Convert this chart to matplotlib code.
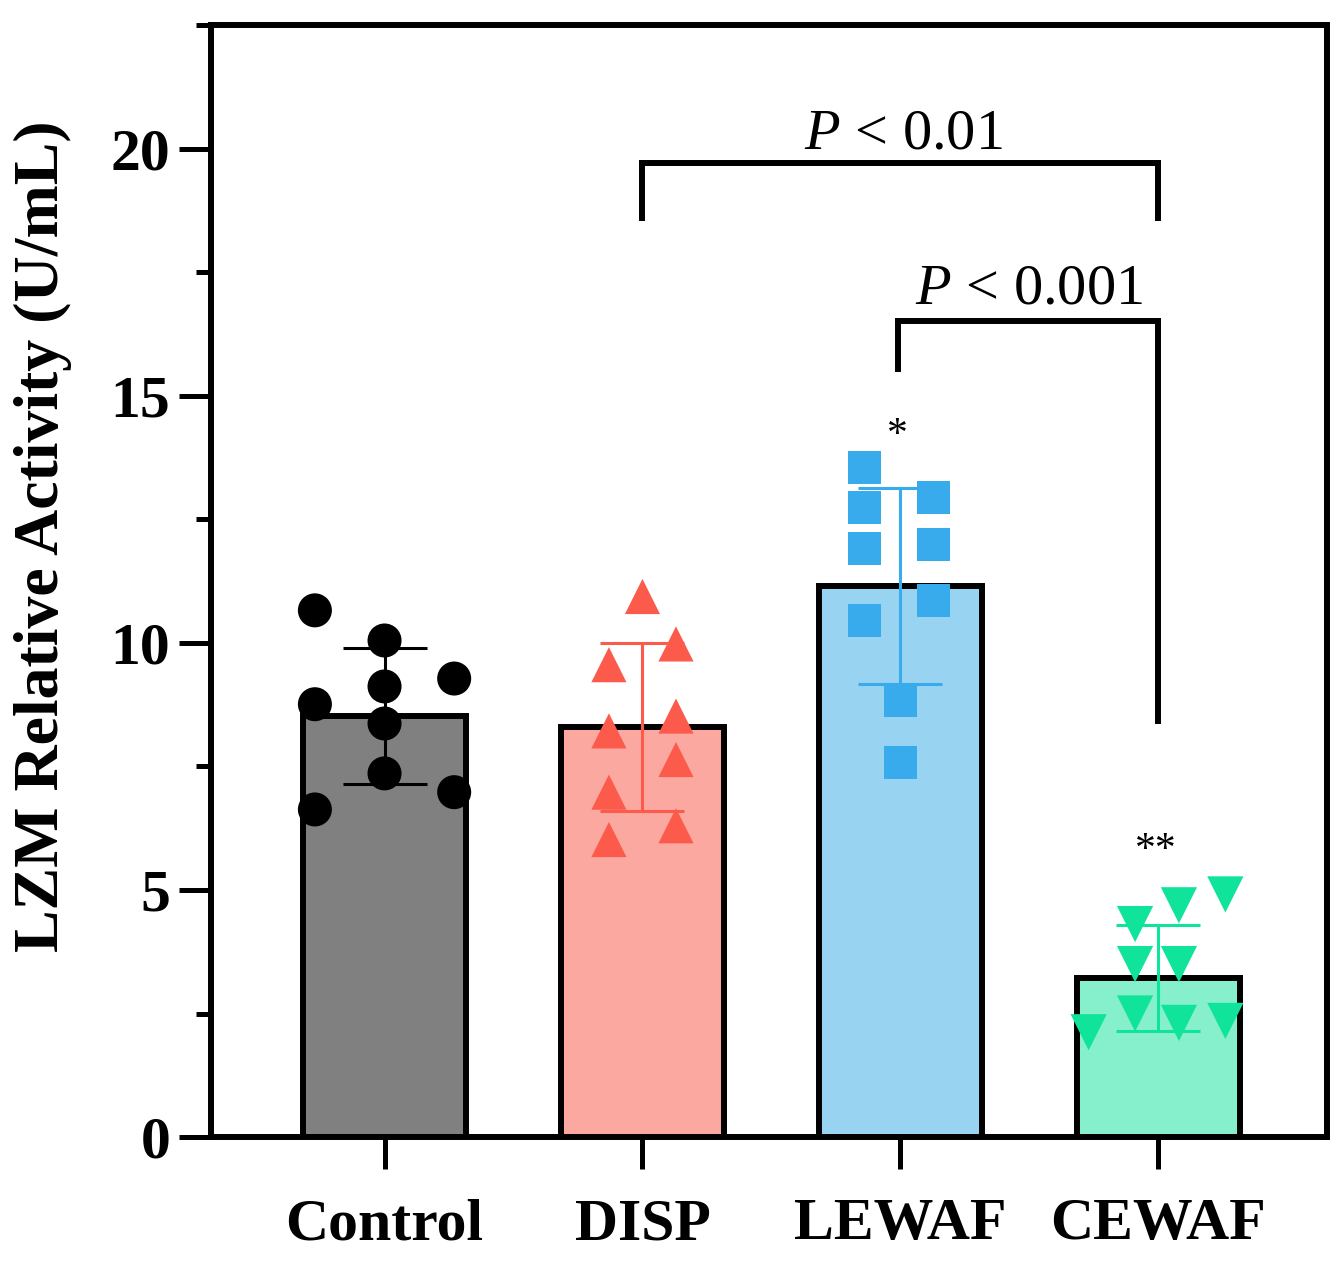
import numpy as np
import matplotlib
matplotlib.use("Agg")
import matplotlib.pyplot as plt
from matplotlib.ticker import MultipleLocator

plt.rcParams['font.family'] = ['Liberation Serif', 'DejaVu Serif']
plt.rcParams['mathtext.fontset'] = 'custom'
plt.rcParams['mathtext.rm'] = 'Liberation Serif'
plt.rcParams['mathtext.it'] = 'Liberation Serif:italic'

groups = ["Control", "DISP", "LEWAF", "CEWAF"]
means = [8.52, 8.30, 11.15, 3.22]
sds = [1.38, 1.70, 1.98, 1.08]

# individual replicates (value, x offset from the group centre)
control_pts = [10.66, 10.05, 9.12, 9.28, 8.76, 8.37, 7.36, 6.98, 6.63]
control_dx = [-0.27, 0.0, 0.0, 0.27, -0.27, 0.0, 0.0, 0.27, -0.27]
disp_pts = [10.94, 9.98, 9.56, 8.52, 8.22, 7.64, 6.98, 6.30, 6.02]
disp_dx = [0.0, 0.13, -0.13, 0.13, -0.13, 0.13, -0.13, 0.13, -0.13]
lewaf_pts = [13.55, 12.74, 11.91, 12.94, 11.99, 10.86, 10.45, 8.84, 7.58]
lewaf_dx = [-0.14, -0.14, -0.14, 0.13, 0.13, 0.13, -0.14, 0.0, 0.0]
cewaf_pts = [4.91, 4.69, 4.31, 3.50, 3.50, 2.50, 2.31, 2.35, 2.12]
cewaf_dx = [0.26, 0.08, -0.09, -0.09, 0.08, -0.09, 0.08, 0.26, -0.27]

bar_colors = ["#808080", "#FBA8A0", "#99D3F2", "#85F0CB"]
pt_colors = ["#000000", "#FC5A4B", "#37ABEB", "#10E49A"]
markers = ["o", "^", "s", "v"]
msizes = [600, 640, 560, 680]

points = [control_pts, disp_pts, lewaf_pts, cewaf_pts]
offsets = [control_dx, disp_dx, lewaf_dx, cewaf_dx]

fig = plt.figure(figsize=(13.42, 12.69), dpi=100)
ax = fig.add_axes([0.157, 0.104, 0.832, 0.876])

x = np.arange(len(groups))
ax.bar(x, means, width=0.63, color=bar_colors, edgecolor="black", linewidth=4.3, zorder=2)

for i in range(len(groups)):
    xs = x[i] + np.array(offsets[i])
    ax.scatter(xs, points[i], s=msizes[i], marker=markers[i], color=pt_colors[i],
               edgecolors="none", zorder=3)
    ax.errorbar(x[i], means[i], yerr=sds[i], color=pt_colors[i], capsize=30,
                elinewidth=2.2, capthick=2.2, zorder=4)

# significance brackets
lw = 4.3
ax.plot([1.0, 1.0, 3.0, 3.0], [18.6, 19.72, 19.72, 18.6], color="black", lw=lw,
        solid_joinstyle="miter", zorder=5)
ax.plot([1.99, 1.99, 3.0, 3.0], [15.55, 16.52, 16.52, 8.43], color="black", lw=lw,
        solid_joinstyle="miter", zorder=5)
ax.text(2.01, 20.0, r"$\mathit{P}$ < 0.01", ha="center", va="baseline", fontsize=42)
ax.text(2.5, 16.88, r"$\mathit{P}$ < 0.001", ha="center", va="baseline", fontsize=42)
ax.text(1.99, 14.2, "*", ha="center", va="center", fontsize=30)
ax.text(2.99, 5.8, "**", ha="center", va="center", fontsize=30)

ax.set_xlim(-0.674, 3.655)
ax.set_ylim(0, 22.5)
ax.set_xticks(x)
ax.set_xticklabels(groups, fontsize=43, fontweight="bold")
ax.yaxis.set_major_locator(MultipleLocator(5))
ax.yaxis.set_minor_locator(MultipleLocator(2.5))
ax.tick_params(axis="y", which="major", labelsize=43, length=23, width=3.6, pad=6)
ax.tick_params(axis="y", which="minor", length=11, width=3.6)
ax.tick_params(axis="x", which="major", length=23, width=3.6, pad=21)
for lab in ax.get_yticklabels():
    lab.set_fontweight("bold")
ax.set_ylabel("LZM Relative Activity (U/mL)", fontsize=46, fontweight="bold")
ax.yaxis.set_label_coords(-0.124, 0.54)

for sp in ax.spines.values():
    sp.set_linewidth(4.3)

fig.savefig("out.png", dpi=100)
